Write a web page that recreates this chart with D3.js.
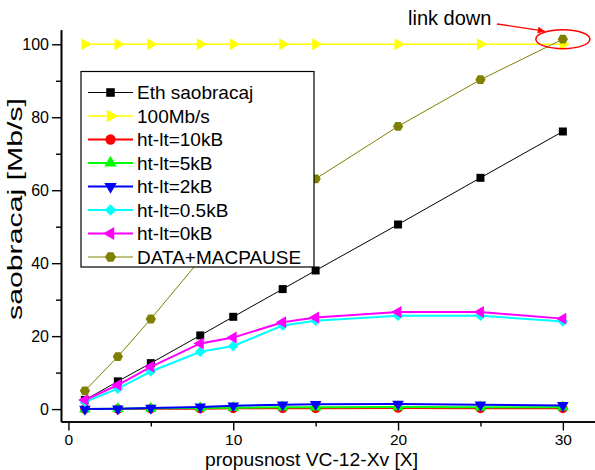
<!DOCTYPE html>
<html>
<head>
<meta charset="utf-8">
<script src="https://cdn.jsdelivr.net/npm/d3@7"></script>
<style>
  body { margin: 0; background: #fff; }
  svg { display: block; font-family: Arial, "Liberation Sans", sans-serif; }
</style>
</head>
<body>
<svg id="chart" width="595" height="470"></svg>
<script>
// VC-12-Xv bandwidth (number of virtual containers)
const xValues = [1, 3, 5, 8, 10, 13, 15, 20, 25, 30];

// Measured throughput in Mb/s for each configuration
const ethTraffic   = [2.5, 7.6, 12.6, 20.2, 25.3, 32.9, 38.0, 50.6, 63.4, 76.1];
const link100      = [100, 100, 100, 100, 100, 100, 100, 100, 100, 100];
const htLt10kB     = [0.0, 0.0, 0.1, 0.1, 0.2, 0.2, 0.2, 0.3, 0.2, 0.2];
const htLt5kB      = [0.0, 0.1, 0.2, 0.3, 0.4, 0.5, 0.5, 0.6, 0.5, 0.5];
const htLt2kB      = [0.0, 0.1, 0.3, 0.6, 0.9, 1.2, 1.3, 1.4, 1.2, 1.0];
const htLt05kB     = [2.0, 5.6, 10.3, 15.7, 17.3, 22.9, 24.2, 25.6, 25.6, 24.0];
const htLt0kB      = [2.5, 6.6, 11.6, 18.0, 19.6, 23.8, 25.1, 26.6, 26.6, 24.8];
const dataMacPause = [5.0, 14.4, 24.7, 41.0, 47.0, 56.5, 63.1, 77.5, 90.3, 101.4];

const seriesNames = ["Eth saobracaj", "100Mb/s", "ht-lt=10kB", "ht-lt=5kB",
                     "ht-lt=2kB", "ht-lt=0.5kB", "ht-lt=0kB", "DATA+MACPAUSE"];

// Axis ticks
const xMajorTicks = [0, 10, 20, 30];
const xMinorTicks = [5, 15, 25];
const yMajorTicks = [0, 20, 40, 60, 80, 100];
const yMinorTicks = [10, 30, 50, 70, 90];

const xTitle = "propusnost VC-12-Xv [X]";
const yTitle = "saobracaj [Mb/s]";
const noteText = "link down";

// Hexagon marker with vertices pointing left/right
const symbolHexagon = {
  draw(ctx, size) {
    const r = Math.sqrt(size / (1.5 * Math.sqrt(3)));
    for (let i = 0; i < 6; i++) {
      const a = i * Math.PI / 3;
      const px = r * Math.cos(a), py = r * Math.sin(a);
      if (i === 0) ctx.moveTo(px, py); else ctx.lineTo(px, py);
    }
    ctx.closePath();
  }
};

const series = [
  { name: seriesNames[0], values: ethTraffic,   color: "#000000", width: 1,   type: d3.symbolSquare,   size: 64, rot: 0 },
  { name: seriesNames[1], values: link100,      color: "#ffff00", width: 1.5, type: d3.symbolTriangle, size: 62, rot: 90 },
  { name: seriesNames[2], values: htLt10kB,     color: "#ff0000", width: 2,   type: d3.symbolCircle,   size: 72, rot: 0 },
  { name: seriesNames[3], values: htLt5kB,      color: "#00ff00", width: 2,   type: d3.symbolTriangle, size: 58, rot: 0 },
  { name: seriesNames[4], values: htLt2kB,      color: "#0000ff", width: 2,   type: d3.symbolTriangle, size: 58, rot: 180 },
  { name: seriesNames[5], values: htLt05kB,     color: "#00ffff", width: 2,   type: d3.symbolSquare,   size: 56, rot: 45 },
  { name: seriesNames[6], values: htLt0kB,      color: "#ff00ff", width: 2,   type: d3.symbolTriangle, size: 62, rot: -90 },
  { name: seriesNames[7], values: dataMacPause, color: "#808000", width: 1,   type: symbolHexagon,     size: 68, rot: 0 }
];

const svg = d3.select("#chart");

const x = d3.scaleLinear().domain([-0.45, 31.95]).range([61, 595]);
const y = d3.scaleLinear().domain([-3.4, 104]).range([421.5, 29.7]);

// Series lines and markers (later series drawn on top)
const line = d3.line().x((d, i) => x(xValues[i])).y(d => y(d));
const plot = svg.append("g");
series.forEach(s => {
  const g = plot.append("g");
  g.append("path")
    .attr("d", line(s.values))
    .attr("fill", "none")
    .attr("stroke", s.color)
    .attr("stroke-width", s.width);
  const sym = d3.symbol().type(s.type).size(s.size)();
  g.selectAll("path.m")
    .data(s.values)
    .join("path")
    .attr("class", "m")
    .attr("d", sym)
    .attr("fill", s.color)
    .attr("transform", (d, i) => `translate(${x(xValues[i])},${y(d)}) rotate(${s.rot})`);
});

// Axes
function styleAxis(g, fontSize) {
  g.selectAll("path.domain").attr("stroke", "#000").attr("stroke-width", 1.6);
  g.selectAll(".tick line").attr("stroke", "#000").attr("stroke-width", 1.4);
  g.selectAll(".tick text").attr("fill", "#000").attr("font-size", fontSize)
    .attr("font-family", "Arial, 'Liberation Sans', sans-serif");
}

const xAxisG = svg.append("g").attr("transform", "translate(0,421.5)");
xAxisG.append("g")
  .call(d3.axisBottom(x).tickValues(xMinorTicks).tickSize(5).tickSizeOuter(0).tickFormat(""))
  .call(styleAxis, 15);
xAxisG.append("g")
  .call(d3.axisBottom(x).tickValues(xMajorTicks).tickSize(9).tickSizeOuter(0).tickPadding(3).tickFormat(d3.format("d")))
  .call(styleAxis, 15.5);

const yAxisG = svg.append("g").attr("transform", "translate(61,0)");
yAxisG.append("g")
  .call(d3.axisLeft(y).tickValues(yMinorTicks).tickSize(5).tickSizeOuter(0).tickFormat(""))
  .call(styleAxis, 16);
yAxisG.append("g")
  .call(d3.axisLeft(y).tickValues(yMajorTicks).tickSize(9).tickSizeOuter(0).tickPadding(3).tickFormat(d3.format("d")))
  .call(styleAxis, 16);

// Axis titles
svg.append("text")
  .attr("x", 311.5).attr("y", 466)
  .attr("text-anchor", "middle")
  .attr("font-size", 18)
  .attr("textLength", 213)
  .attr("lengthAdjust", "spacingAndGlyphs")
  .attr("fill", "#000")
  .text(xTitle);

svg.append("text")
  .attr("transform", "translate(22,209) rotate(-90)")
  .attr("text-anchor", "middle")
  .attr("font-size", 20)
  .attr("textLength", 222)
  .attr("lengthAdjust", "spacingAndGlyphs")
  .attr("fill", "#000")
  .text(yTitle);

// Legend
const legend = svg.append("g");
legend.append("rect")
  .attr("x", 81).attr("y", 71.5)
  .attr("width", 233).attr("height", 195.5)
  .attr("fill", "#fff")
  .attr("stroke", "#000")
  .attr("stroke-width", 1.2);

series.forEach((s, i) => {
  const cy = 92.5 + i * 23.5;
  const row = legend.append("g");
  row.append("line")
    .attr("x1", 88).attr("x2", 133)
    .attr("y1", cy).attr("y2", cy)
    .attr("stroke", s.color)
    .attr("stroke-width", s.width);
  row.append("path")
    .attr("d", d3.symbol().type(s.type).size(s.size * 1.15)())
    .attr("fill", s.color)
    .attr("transform", `translate(110.5,${cy}) rotate(${s.rot})`);
  row.append("text")
    .attr("x", 137).attr("y", cy + 6.8)
    .attr("font-size", 19)
    .attr("fill", "#000")
    .text(s.name);
});

// "link down" annotation at the last DATA+MACPAUSE point
const last = xValues.length - 1;
const cx = x(xValues[last]), cyPt = y(dataMacPause[last]);

svg.append("defs").append("marker")
  .attr("id", "arrowRed")
  .attr("viewBox", "0 0 10 10")
  .attr("refX", 10).attr("refY", 5)
  .attr("markerWidth", 9).attr("markerHeight", 7)
  .attr("markerUnits", "userSpaceOnUse")
  .attr("orient", "auto")
  .append("path")
  .attr("d", "M0,0 L10,5 L0,10 Z")
  .attr("fill", "#ff0000");

svg.append("ellipse")
  .attr("cx", cx).attr("cy", cyPt)
  .attr("rx", 27).attr("ry", 9.5)
  .attr("fill", "none")
  .attr("stroke", "#ff0000")
  .attr("stroke-width", 1.5);

svg.append("line")
  .attr("x1", 497).attr("y1", 24)
  .attr("x2", cx - 18).attr("y2", cyPt - 8)
  .attr("stroke", "#ff0000")
  .attr("stroke-width", 1.3)
  .attr("marker-end", "url(#arrowRed)");

svg.append("text")
  .attr("x", 408).attr("y", 25)
  .attr("font-size", 20)
  .attr("fill", "#000")
  .text(noteText);
</script>
</body>
</html>
